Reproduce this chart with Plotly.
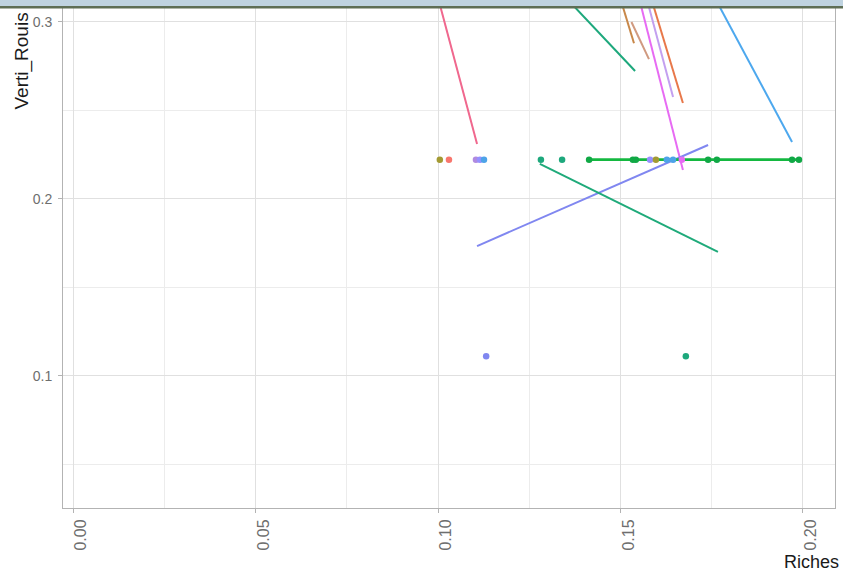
import plotly.graph_objects as go

# ---------------- data ----------------
# points (Richesse, Verti_Rouissement) with their group
pt_x = [0.1005, 0.1030, 0.1104, 0.1115, 0.1126, 0.1282, 0.1340, 0.1414, 0.1534, 0.1542,
        0.1581, 0.1597, 0.1627, 0.1644, 0.1668, 0.1740, 0.1764, 0.1970, 0.1989,
        0.1132, 0.1679]
pt_y = [2/9] * 19 + [1/9] * 2
pt_group = ["olive", "red", "violet", "purple", "blue", "teal", "teal", "green", "green", "green",
            "purple", "olive", "blue", "blue", "magenta", "green", "green", "green", "green",
            "periwinkle", "teal"]

# fitted lines per group: start / end
ln_group = ["pink", "teal", "brown", "tan", "orange", "magenta", "lilac", "skyblue",
            "periwinkle", "seagreen", "green"]
ln_x0 = [0.0966, 0.1230, 0.1460, 0.1530, 0.1545, 0.1518, 0.1537, 0.1690, 0.1107, 0.1279, 0.1414]
ln_y0 = [0.340, 0.340, 0.340, 0.300, 0.340, 0.340, 0.340, 0.340, 0.1734, 0.2198, 2/9]
ln_x1 = [0.1107, 0.1540, 0.1537, 0.1578, 0.1671, 0.1671, 0.1644, 0.1970, 0.1740, 0.1767, 0.1989]
ln_y1 = [0.2311, 0.2723, 0.2880, 0.2790, 0.2542, 0.2164, 0.2576, 0.2322, 0.2305, 0.1701, 2/9]

x_ticks = [0.00, 0.05, 0.10, 0.15, 0.20]
x_labels = ["0.00", "0.05", "0.10", "0.15", "0.20"]
y_ticks = [0.1, 0.2, 0.3]
y_labels = ["0.1", "0.2", "0.3"]

palette = {
    "olive": "#A39A32", "red": "#F8766D", "violet": "#B08AE0", "purple": "#9590FF",
    "blue": "#4DA3E8", "teal": "#1DA87C", "green": "#10A845", "magenta": "#E76BF3",
    "pink": "#F0688E", "brown": "#C8884A", "tan": "#D09A80", "orange": "#E8784A",
    "lilac": "#C3A0F0", "skyblue": "#4DA8EE", "periwinkle": "#8087F0",
    "seagreen": "#1FAA7A",
}

fig = go.Figure()

for g, x0, y0, x1, y1 in zip(ln_group, ln_x0, ln_y0, ln_x1, ln_y1):
    lw = 2.6 if g == "green" else 2
    fig.add_trace(go.Scatter(x=[x0, x1], y=[y0, y1], mode="lines",
                             line=dict(color=palette[g] if g != "green" else "#14B840", width=lw),
                             showlegend=False, hoverinfo="skip"))

fig.add_trace(go.Scatter(x=pt_x, y=pt_y, mode="markers",
                         marker=dict(color=[palette[g] for g in pt_group], size=6.5),
                         showlegend=False))

W, H = 843, 572
ml, mr, mt, mb = 63, 8, 8, 64
pw, ph = W - ml - mr, H - mt - mb

def px_x(p):
    return (p - ml) / pw

def px_y(p):
    return (H - mb - p) / ph

fig.update_layout(
    width=W, height=H,
    margin=dict(l=ml, r=mr, t=mt, b=mb, pad=0),
    paper_bgcolor="white", plot_bgcolor="white",
    font=dict(family="Arial", color="#4D4D4D"),
    xaxis=dict(range=[-0.00274, 0.20877], tickvals=x_ticks, ticktext=x_labels,
               tickangle=-90, tickfont=dict(size=16, color="#6E6E6E"),
               ticks="outside", ticklen=4, tickcolor="#B3B3B3",
               ticklabelshift=8, ticklabelstandoff=0,
               showgrid=True, gridcolor="#E0E0E0", gridwidth=1,
               minor=dict(dtick=0.025, tick0=0.025, showgrid=True, gridcolor="#ECECEC", gridwidth=1),
               showline=True, linecolor="#B3B3B3", linewidth=1, mirror=False, zeroline=False),
    yaxis=dict(range=[0.02542, 0.3079], tickvals=y_ticks, ticktext=y_labels,
               tickfont=dict(size=14, color="#6E6E6E"),
               ticks="outside", ticklen=4, tickcolor="#B3B3B3", ticklabelstandoff=3,
               showgrid=True, gridcolor="#E0E0E0", gridwidth=1,
               minor=dict(dtick=0.1, tick0=0.05, showgrid=True, gridcolor="#ECECEC", gridwidth=1),
               showline=True, linecolor="#B3B3B3", linewidth=1, mirror=True, zeroline=False),
    shapes=[
        dict(type="rect", xref="paper", yref="paper", x0=px_x(0), x1=px_x(W), y0=px_y(6), y1=px_y(0),
             fillcolor="#BFD3E0", line=dict(width=0), layer="above"),
        dict(type="rect", xref="paper", yref="paper", x0=px_x(0), x1=px_x(W), y0=px_y(8.5), y1=px_y(6),
             fillcolor="#5E6E55", line=dict(width=0), layer="above"),
    ],
    annotations=[
        dict(text="Verti_Rouis", xref="paper", yref="paper", x=px_x(22), y=px_y(112),
             xanchor="center", yanchor="bottom", textangle=-90, showarrow=False,
             font=dict(size=19, color="#1A1A1A", family="Arial")),
        dict(text="Riches", xref="paper", yref="paper", x=px_x(782), y=px_y(562),
             xanchor="left", yanchor="middle", showarrow=False,
             font=dict(size=18, color="#1A1A1A", family="Arial")),
    ],
)

fig.write_html("out.html", config={"displayModeBar": False},
               post_script="document.body.style.margin='0';document.body.style.overflow='hidden';")
